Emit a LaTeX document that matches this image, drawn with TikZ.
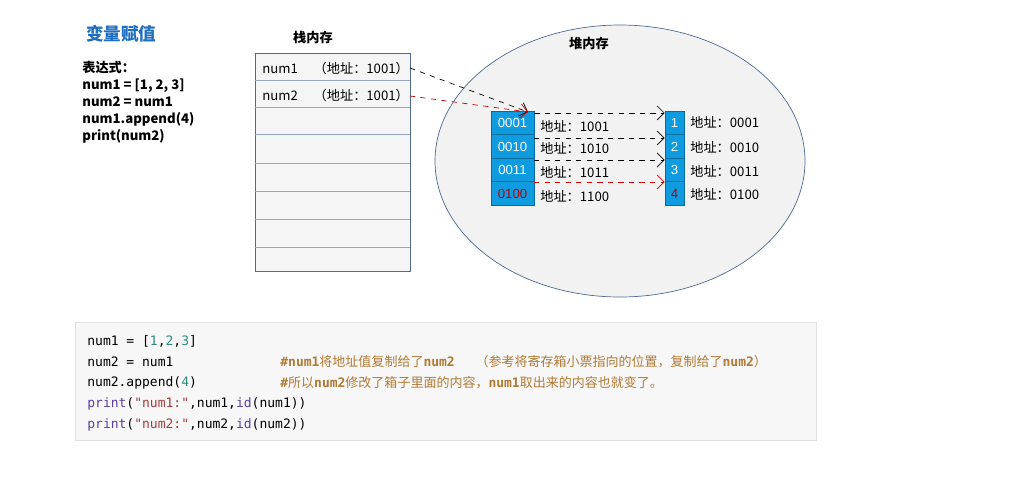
\documentclass[tikz,border=0pt]{standalone}
\usepackage{fontspec}
\setmainfont{Liberation Sans}
\setmonofont{DejaVu Sans Mono}
\newfontfamily\cjk{Noto Sans CJK SC}
\usetikzlibrary{arrows.meta}
\definecolor{blu}{HTML}{0F9BE0}
\definecolor{ttl}{HTML}{1F6FC0}
\definecolor{cmt}{HTML}{B07A35}
\definecolor{numc}{HTML}{2A8A7A}
\definecolor{prc}{HTML}{5B3FA0}
\definecolor{strc}{HTML}{A83A3A}
\definecolor{edge}{HTML}{4F6A95}
\tikzset{
 cell/.style={draw=blu!70!black,fill=blu,minimum width=0.86cm,minimum height=0.47cm,inner sep=0,text=white,font=\fontsize{7.5}{8}\selectfont},
 rcell/.style={draw=blu!70!black,fill=blu,minimum width=0.38cm,minimum height=0.47cm,inner sep=0,text=white,font=\fontsize{7.5}{8}\selectfont},
 lab/.style={anchor=west,font=\cjk\fontsize{7.5}{8}\selectfont,inner sep=0},
 dsh/.style={dashed,-{Straight Barb[length=4pt]},thin},
 code/.style={anchor=west,inner sep=0,font=\ttfamily\fontsize{7.4}{8}\selectfont},
}
\begin{document}
\begin{tikzpicture}[x=0.02cm,y=-0.02cm]
\useasboundingbox[fill=white] (0,0) rectangle (1014,495);
\node[anchor=west,text=ttl,font=\cjk\bfseries\fontsize{10}{12}\selectfont] (title) at (80,34) {变量赋值};
\node[anchor=north west,align=left,inner sep=0,font=\cjk\bfseries\fontsize{7.5}{9.6}\selectfont] (expr) at (82,61) {表达式：\\num1 = [1, 2, 3]\\num2 = num1\\num1.append(4)\\print(num2)};
% stack
\node[font=\cjk\bfseries\fontsize{7.5}{8}\selectfont] (stk) at (313,37) {栈内存};
\draw[draw=edge,fill=black!4] (255,53) rectangle (410,271);
\foreach \y in {80,107,134,163,191,219,247} \draw[edge!60] (255,\y) -- (410,\y);
\node[lab] (n1) at (262,68) {num1\hspace{1.2em}（地址：1001）};
\node[lab] (n2) at (262,95) {num2\hspace{1.2em}（地址：1001）};
\coordinate (n1e) at (410,68);
\coordinate (n2e) at (410,96);
% heap
\draw[draw=edge,fill=black!5] (620,161) ellipse [x radius=185,y radius=136];
\node[font=\cjk\bfseries\fontsize{7.5}{8}\selectfont] (heap) at (589,43) {堆内存};
\node[cell] (a1) at (512.5,123) {0001};
\node[cell] (a2) at (512.5,146.5) {0010};
\node[cell] (a3) at (512.5,170) {0011};
\node[cell,text=red!70!black] (a4) at (512.5,193.5) {0100};
\node[rcell] (b1) at (674.5,123) {1};
\node[rcell] (b2) at (674.5,146.5) {2};
\node[rcell] (b3) at (674.5,170) {3};
\node[rcell,text=red!70!black] (b4) at (674.5,193.5) {4};
\node[lab] (la1) at (540,126) {地址：1001};
\node[lab] (la2) at (540,148) {地址：1010};
\node[lab] (la3) at (540,172) {地址：1011};
\node[lab] (la4) at (540,196) {地址：1100};
\node[lab] (lb1) at (690,122) {地址：0001};
\node[lab] (lb2) at (690,147) {地址：0010};
\node[lab] (lb3) at (690,171) {地址：0011};
\node[lab] (lb4) at (690,194) {地址：0100};
\coordinate (tgt) at (528,112);
\draw[dsh] (n1e) -- (tgt);
\draw[dsh,red!80!black] (n2e) -- (tgt);
\draw[dsh] (a1.north east) ++(0,2) coordinate (s1) -- (b1.north west |- s1);
\draw[dsh] (534,138) coordinate (s2) -- (b2.west |- s2);
\draw[dsh] (534,160) coordinate (s3) -- (b3.west |- s3);
\draw[dsh,red!80!black] (534,182) coordinate (s4) -- (b4.west |- s4);
% code
\draw[black!12,fill=black!3] (75,322) rectangle (816,440);
\node[code] (c1) at (87,341) {num1 = [\textcolor{numc}{1},\textcolor{numc}{2},\textcolor{numc}{3}]};
\node[code] (c2) at (87,362) {num2 = num1};
\node[code] (c3) at (87,383) {num2.append(\textcolor{numc}{4})};
\node[code] (c4) at (87,404) {\textcolor{prc}{print}(\textcolor{strc}{"num1:"},num1,\textcolor{prc}{id}(num1))};
\node[code] (c5) at (87,425) {\textcolor{prc}{print}(\textcolor{strc}{"num2:"},num2,\textcolor{prc}{id}(num2))};
\node[code,text=cmt] (m2) at (280,362) {\bfseries\#num1{\cjk\mdseries 将地址值复制给了}num2\hspace{1.6em}{\cjk\mdseries （参考将寄存箱小票指向的位置，复制给了}num2{\cjk\mdseries ）}};
\node[code,text=cmt] (m3) at (280,383) {\bfseries\#{\cjk\mdseries 所以}num2{\cjk\mdseries 修改了箱子里面的内容，}num1{\cjk\mdseries 取出来的内容也就变了。}};
\end{tikzpicture}
\end{document}
